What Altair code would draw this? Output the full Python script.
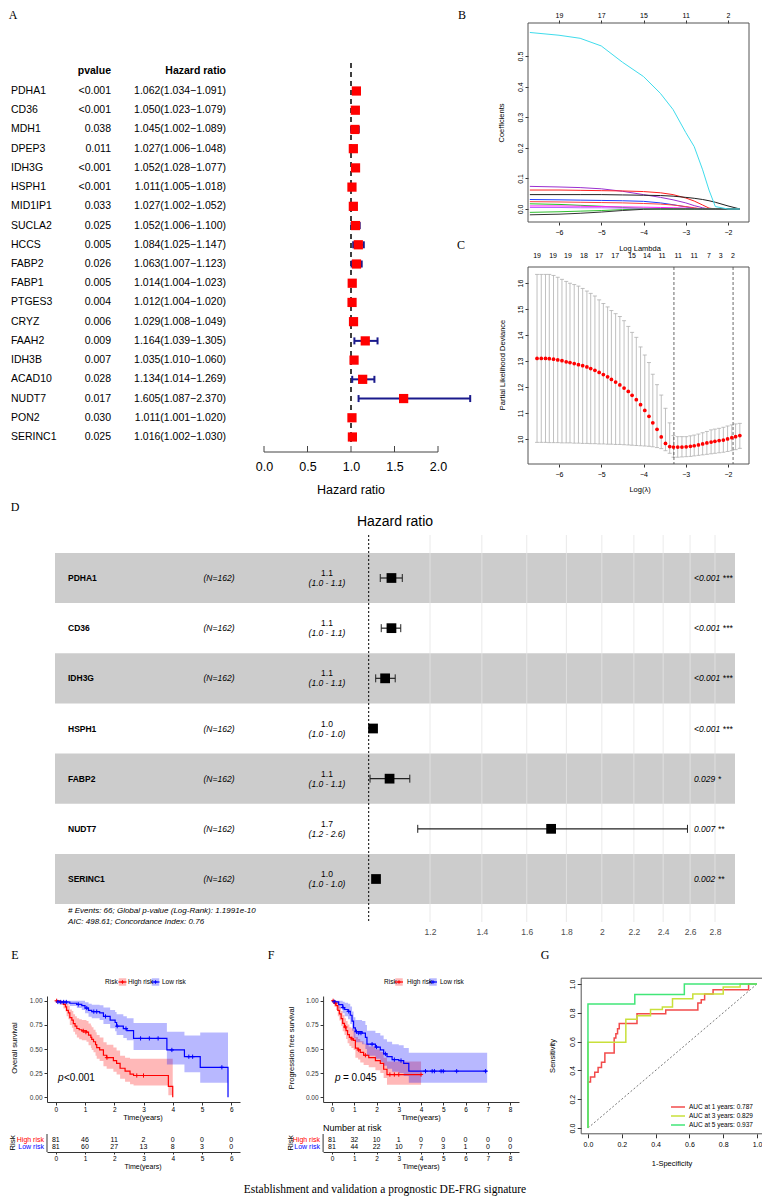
import altair as alt
import pandas as pd

# ---------------- Panel A data (univariate Cox) ----------------
a_genes = ['PDHA1', 'CD36', 'MDH1', 'DPEP3', 'IDH3G', 'HSPH1', 'MID1IP1', 'SUCLA2', 'HCCS', 'FABP2',
           'FABP1', 'PTGES3', 'CRYZ', 'FAAH2', 'IDH3B', 'ACAD10', 'NUDT7', 'PON2', 'SERINC1']
a_pval = ['<0.001', '<0.001', '0.038', '0.011', '<0.001', '<0.001', '0.033', '0.025', '0.005', '0.026',
          '0.005', '0.004', '0.006', '0.009', '0.007', '0.028', '0.017', '0.030', '0.025']
a_hr = [1.062, 1.050, 1.045, 1.027, 1.052, 1.011, 1.027, 1.052, 1.084, 1.063,
        1.014, 1.012, 1.029, 1.164, 1.035, 1.134, 1.605, 1.011, 1.016]
a_lo = [1.034, 1.023, 1.002, 1.006, 1.028, 1.005, 1.002, 1.006, 1.025, 1.007,
        1.004, 1.004, 1.008, 1.039, 1.010, 1.014, 1.087, 1.001, 1.002]
a_hi = [1.091, 1.079, 1.089, 1.048, 1.077, 1.018, 1.052, 1.100, 1.147, 1.123,
        1.023, 1.020, 1.049, 1.305, 1.060, 1.269, 2.370, 1.020, 1.030]
a_ticks = [0, 0.5, 1, 1.5, 2]

# ---------------- Panel B data (LASSO paths) ----------------
b_lam = [-6.69, -6.0, -5.5, -5.0, -4.5, -4.0, -3.6, -3.3, -3.0, -2.8, -2.6, -2.45, -2.3, -2.0, -1.72]
b_purple = [0.074, 0.072, 0.07, 0.066, 0.058, 0.047, 0.038, 0.03, 0.02, 0.011, 0.004, 0.0, 0.0, 0.0, 0.0]
b_red1 = [0.062, 0.062, 0.061, 0.06, 0.059, 0.057, 0.053, 0.047, 0.036, 0.026, 0.013, 0.003, 0.0, 0.0, 0.0]
b_black1 = [0.047, 0.047, 0.047, 0.047, 0.046, 0.045, 0.044, 0.042, 0.038, 0.035, 0.031, 0.027, 0.022, 0.01, 0.0]
b_blue = [0.031, 0.03, 0.029, 0.028, 0.027, 0.025, 0.02, 0.014, 0.007, 0.002, 0.0, 0.0, 0.0, 0.0, 0.0]
b_red2 = [0.024, 0.023, 0.022, 0.021, 0.02, 0.018, 0.016, 0.013, 0.008, 0.004, 0.0, 0.0, 0.0, 0.0, 0.0]
b_green1 = [0.017, 0.015, 0.012, 0.009, 0.005, 0.002, 0.0, 0.0, 0.0, 0.0, 0.0, 0.0, 0.0, 0.0, 0.0]
b_magenta = [0.01, 0.01, 0.009, 0.008, 0.007, 0.006, 0.005, 0.004, 0.003, 0.002, 0.001, 0.0, 0.0, 0.0, 0.0]
b_violet = [0.005, 0.005, 0.004, 0.004, 0.003, 0.002, 0.001, 0.0, 0.0, 0.0, 0.0, 0.0, 0.0, 0.0, 0.0]
b_green2 = [-0.011, -0.009, -0.007, -0.005, -0.002, 0.0, 0.0, 0.0, 0.0, 0.0, 0.0, 0.0, 0.0, 0.0, 0.0]
b_black2 = [-0.019, -0.017, -0.014, -0.01, -0.005, -0.001, 0.0, 0.0, 0.0, 0.0, 0.0, 0.0, 0.0, 0.0, 0.0]
b_cyan = [0.577, 0.568, 0.558, 0.533, 0.48, 0.433, 0.378, 0.325, 0.25, 0.204, 0.128, 0.062, 0.008, 0.0, 0.0]
b_names = ['purple', 'red1', 'black1', 'blue', 'red2', 'green1', 'magenta', 'violet', 'green2', 'black2', 'cyan']
b_colors = ['#9b30d0', '#ff2020', '#202020', '#2040ff', '#ff4040', '#20c020', '#ff20ff', '#c060ff',
            '#30c030', '#333333', '#3fdcec']
b_top_vals = [-6, -5, -4, -3, -2]
b_top_labels = ['19', '17', '15', '11', '2']

# ---------------- Panel C data (cross-validation) ----------------
c_lam = [-6.52, -6.42, -6.32, -6.23, -6.13, -6.03, -5.93, -5.83, -5.74, -5.64,
         -5.54, -5.44, -5.34, -5.25, -5.15, -5.05, -4.95, -4.85, -4.76, -4.66,
         -4.56, -4.46, -4.36, -4.27, -4.17, -4.07, -3.97, -3.87, -3.78, -3.68,
         -3.58, -3.48, -3.38, -3.29, -3.19, -3.09, -2.99, -2.89, -2.80, -2.70,
         -2.60, -2.50, -2.40, -2.31, -2.21, -2.11, -2.01, -1.91, -1.82, -1.72]
c_mean = [13.10, 13.10, 13.10, 13.09, 13.07, 13.04, 13.01, 12.97, 12.94, 12.90,
          12.86, 12.82, 12.77, 12.71, 12.64, 12.56, 12.48, 12.39, 12.29, 12.19,
          12.08, 11.96, 11.83, 11.68, 11.51, 11.32, 11.10, 10.87, 10.62, 10.37,
          10.08, 9.83, 9.71, 9.69, 9.69, 9.69, 9.70, 9.72, 9.74, 9.77,
          9.81, 9.85, 9.88, 9.91, 9.94, 9.96, 10.00, 10.05, 10.09, 10.13]
c_up = [16.33, 16.33, 16.33, 16.33, 16.29, 16.22, 16.14, 16.06, 15.99, 15.94,
        15.88, 15.79, 15.69, 15.60, 15.50, 15.35, 15.21, 15.08, 14.94, 14.82,
        14.71, 14.55, 14.33, 14.10, 13.91, 13.54, 13.23, 12.94, 12.49, 12.09,
        11.69, 11.18, 10.62, 10.13, 10.09, 10.09, 10.09, 10.12, 10.15, 10.19,
        10.24, 10.29, 10.35, 10.38, 10.41, 10.45, 10.50, 10.54, 10.58, 10.60]
c_low = [9.87, 9.87, 9.87, 9.86, 9.86, 9.86, 9.85, 9.85, 9.85, 9.84,
         9.84, 9.83, 9.83, 9.82, 9.82, 9.81, 9.81, 9.80, 9.80, 9.79,
         9.79, 9.78, 9.77, 9.76, 9.75, 9.74, 9.73, 9.72, 9.70, 9.67,
         9.63, 9.55, 9.45, 9.30, 9.30, 9.31, 9.32, 9.33, 9.35, 9.37,
         9.39, 9.41, 9.43, 9.45, 9.47, 9.49, 9.52, 9.55, 9.59, 9.64]
c_vlines = [-3.28, -1.88]
c_top_lam = [-6.52, -6.14, -5.79, -5.41, -5.05, -4.67, -4.27, -3.92, -3.56, -3.18, -2.80, -2.45, -2.17, -1.88]
c_top_nz = ['19', '19', '19', '18', '17', '17', '15', '14', '11', '11', '11', '7', '3', '2']

# ---------------- Panel D data (multivariate Cox) ----------------
d_genes = ['PDHA1', 'CD36', 'IDH3G', 'HSPH1', 'FABP2', 'NUDT7', 'SERINC1']
d_n = ['(N=162)'] * 7
d_hr = [1.070, 1.070, 1.050, 1.013, 1.064, 1.720, 1.022]
d_lo = [1.035, 1.038, 1.021, 1.008, 1.004, 1.157, 1.015]
d_hi = [1.105, 1.100, 1.082, 1.019, 1.130, 2.580, 1.030]
d_est = ['1.1', '1.1', '1.1', '1.0', '1.1', '1.7', '1.0']
d_ci = ['(1.0 - 1.1)', '(1.0 - 1.1)', '(1.0 - 1.1)', '(1.0 - 1.0)', '(1.0 - 1.1)', '(1.2 - 2.6)', '(1.0 - 1.0)']
d_p = ['<0.001 ***', '<0.001 ***', '<0.001 ***', '<0.001 ***', '0.029 *', '0.007 **', '0.002 **']
d_ticks = [1.2, 1.4, 1.6, 1.8, 2, 2.2, 2.4, 2.6, 2.8]

# ---------------- Panel E data (OS Kaplan-Meier) ----------------
e_hi_t = [0, 0.15, 0.26, 0.33, 0.37, 0.43, 0.48, 0.55, 0.6, 0.66, 0.72, 0.8, 0.89, 1.05, 1.12, 1.2,
          1.23, 1.29, 1.36, 1.4, 1.5, 1.63, 1.74, 1.97, 2.08, 2.2, 2.37, 2.54, 2.66, 3.85, 4.0]
e_hi_s = [1.0, 0.988, 0.963, 0.938, 0.9, 0.875, 0.825, 0.8, 0.763, 0.738, 0.713, 0.7, 0.688, 0.675, 0.645, 0.62,
          0.6, 0.575, 0.545, 0.515, 0.49, 0.435, 0.41, 0.38, 0.35, 0.3, 0.27, 0.24, 0.225, 0.113, 0.0]
e_hi_up = [1.0, 1.0, 1.0, 0.99, 0.97, 0.95, 0.91, 0.895, 0.86, 0.84, 0.82, 0.81, 0.8, 0.79, 0.765, 0.745,
           0.725, 0.7, 0.675, 0.645, 0.62, 0.57, 0.545, 0.515, 0.485, 0.43, 0.41, 0.40, 0.40, 0.40, 0.40]
e_hi_lo = [1.0, 0.96, 0.92, 0.89, 0.84, 0.81, 0.75, 0.72, 0.68, 0.65, 0.62, 0.6, 0.59, 0.575, 0.54, 0.51,
           0.49, 0.465, 0.43, 0.4, 0.375, 0.32, 0.295, 0.265, 0.235, 0.19, 0.16, 0.135, 0.12, 0.02, 0.0]
e_lo_t = [0, 0.1, 0.48, 0.72, 0.89, 1.0, 1.12, 1.23, 1.5, 1.63, 1.86, 2.03, 2.08, 2.31, 2.43, 2.66, 3.8, 4.4, 4.94, 5.89]
e_lo_s = [1.0, 0.988, 0.975, 0.963, 0.95, 0.925, 0.9, 0.888, 0.875, 0.838, 0.8, 0.775, 0.737, 0.712, 0.69, 0.61,
          0.49, 0.42, 0.31, 0.0]
e_lo_up = [1.0, 1.0, 1.0, 1.0, 1.0, 0.985, 0.97, 0.96, 0.955, 0.93, 0.905, 0.885, 0.86, 0.84, 0.82, 0.77,
           0.68, 0.64, 0.67, 0.67]
e_lo_lo = [1.0, 0.965, 0.945, 0.925, 0.905, 0.87, 0.835, 0.82, 0.8, 0.76, 0.715, 0.685, 0.645, 0.615, 0.59, 0.49,
           0.34, 0.26, 0.15, 0.15]
e_hi_ct = [0.03, 0.94, 1.03, 1.75, 2.77, 3.0]
e_hi_cs = [1.0, 0.688, 0.675, 0.41, 0.225, 0.225]
e_lo_ct = [0.07, 0.17, 0.27, 0.36, 0.77, 1.06, 1.3, 1.4, 1.7, 2.1, 2.4, 2.9, 3.2, 3.5, 3.97, 4.55, 4.68, 5.68]
e_lo_cs = [0.988, 0.988, 0.988, 0.988, 0.963, 0.925, 0.888, 0.888, 0.838, 0.737, 0.712, 0.61, 0.61, 0.61,
           0.49, 0.42, 0.42, 0.31]
e_years = [0, 1, 2, 3, 4, 5, 6]
e_risk_hi = [81, 46, 11, 2, 0, 0, 0]
e_risk_lo = [81, 60, 27, 13, 8, 3, 0]

# ---------------- Panel F data (PFS Kaplan-Meier) ----------------
f_hi_t = [0, 0.1, 0.18, 0.26, 0.33, 0.41, 0.48, 0.56, 0.63, 0.7, 0.78, 0.87, 0.97, 1.05, 1.17, 1.27,
          1.42, 1.65, 1.95, 2.17, 2.32, 2.47, 4.0]
f_hi_s = [1.0, 0.975, 0.95, 0.9, 0.865, 0.815, 0.765, 0.728, 0.69, 0.65, 0.62, 0.605, 0.59, 0.51, 0.49, 0.465,
          0.435, 0.41, 0.38, 0.35, 0.29, 0.235, 0.235]
f_hi_up = [1.0, 1.0, 0.99, 0.96, 0.935, 0.895, 0.855, 0.82, 0.79, 0.755, 0.725, 0.715, 0.7, 0.625, 0.605, 0.58,
           0.555, 0.525, 0.495, 0.47, 0.41, 0.37, 0.37]
f_hi_lo = [1.0, 0.94, 0.905, 0.84, 0.795, 0.74, 0.685, 0.645, 0.605, 0.56, 0.53, 0.51, 0.49, 0.41, 0.39, 0.36,
           0.335, 0.31, 0.28, 0.25, 0.2, 0.13, 0.13]
f_lo_t = [0, 0.14, 0.3, 0.48, 0.57, 0.72, 0.82, 0.9, 0.97, 1.05, 1.35, 1.5, 1.57, 1.95, 2.17, 2.32, 2.47, 2.7,
          3.0, 3.22, 3.45, 6.97]
f_lo_s = [1.0, 0.99, 0.96, 0.93, 0.91, 0.89, 0.85, 0.79, 0.72, 0.68, 0.665, 0.62, 0.55, 0.52, 0.49, 0.45, 0.42,
          0.39, 0.38, 0.35, 0.27, 0.27]
f_lo_up = [1.0, 1.0, 1.0, 0.99, 0.98, 0.97, 0.94, 0.89, 0.83, 0.8, 0.79, 0.75, 0.69, 0.665, 0.64, 0.6, 0.575,
           0.55, 0.54, 0.51, 0.46, 0.46]
f_lo_lo = [1.0, 0.97, 0.92, 0.87, 0.84, 0.81, 0.76, 0.69, 0.615, 0.57, 0.55, 0.5, 0.43, 0.4, 0.365, 0.325, 0.295,
           0.265, 0.25, 0.22, 0.15, 0.15]
f_hi_ct = [0.05, 0.15, 0.6, 0.9, 1.2, 1.5, 2.6, 2.8, 3.0, 4.0]
f_hi_cs = [1.0, 0.975, 0.728, 0.605, 0.49, 0.435, 0.235, 0.235, 0.235, 0.235]
f_lo_ct = [0.1, 0.5, 0.75, 1.1, 1.2, 1.3, 1.8, 2.0, 2.4, 2.8, 3.1, 4.2, 4.5, 4.6, 4.9, 5.0, 5.6, 6.9]
f_lo_cs = [0.99, 0.93, 0.89, 0.68, 0.665, 0.665, 0.55, 0.52, 0.45, 0.39, 0.38, 0.27, 0.27, 0.27, 0.27, 0.27,
           0.27, 0.27]
f_years = [0, 1, 2, 3, 4, 5, 6, 7, 8]
f_risk_hi = [81, 32, 10, 1, 0, 0, 0, 0, 0]
f_risk_lo = [81, 44, 22, 10, 7, 3, 1, 0, 0]

# ---------------- Panel G data (time-dependent ROC) ----------------
g_names = ['AUC at 1 years: 0.787', 'AUC at 3 years: 0.829', 'AUC at 5 years: 0.937']
g_colors = ['#f24b4b', '#c9e03a', '#42e678']
g1_fpr = [0, 0, 0.015, 0.015, 0.04, 0.04, 0.06, 0.06, 0.08, 0.08, 0.1, 0.1, 0.155, 0.155, 0.165, 0.165,
          0.175, 0.175, 0.185, 0.185, 0.29, 0.29, 0.46, 0.46, 0.65, 0.65, 0.67, 0.67, 0.69, 0.69, 0.74, 0.74,
          0.95, 0.95, 1.0]
g1_tpr = [0, 0.32, 0.32, 0.355, 0.355, 0.387, 0.387, 0.42, 0.42, 0.456, 0.456, 0.521, 0.521, 0.625, 0.625, 0.655,
          0.655, 0.69, 0.69, 0.725, 0.725, 0.794, 0.794, 0.82, 0.82, 0.868, 0.868, 0.89, 0.89, 0.93, 0.93, 0.96,
          0.96, 1.0, 1.0]
g3_fpr = [0, 0, 0.224, 0.224, 0.29, 0.29, 0.37, 0.37, 0.44, 0.44, 0.5, 0.5, 0.62, 0.62, 0.8, 0.8, 0.9, 0.9, 1.0]
g3_tpr = [0, 0.595, 0.595, 0.755, 0.755, 0.78, 0.78, 0.822, 0.822, 0.84, 0.84, 0.898, 0.898, 0.93, 0.93, 0.979,
          0.979, 1.0, 1.0]
g5_fpr = [0, 0, 0.277, 0.277, 0.57, 0.57, 1.0]
g5_tpr = [0, 0.861, 0.861, 0.926, 0.926, 1.0, 1.0]

caption = 'Establishment and validation a prognostic DE-FRG signature'

# ====================================================================
W, H = 754, 1188
SANS = 'Liberation Sans'
SERIF = 'Liberation Serif'
PLUS = 'M-1,0L1,0M0,-1L0,1'
VBAR = 'M0,-1L0,1'
HBAR = 'M-1,0L1,0'


def px(v):
    return v - 8


def py(v):
    return v - 8


def lin(domain, rng):
    return alt.Scale(domain=domain, range=rng, nice=False, zero=False)


def axis(orient, pos, values, fmt=None, size=7, tick=4, ticks=True, domain=False, pad=2,
         color='black', expr=None, angle=None):
    kw = dict(orient=orient, values=values, labelFontSize=size, labelFont=SANS, labelColor=color,
              ticks=ticks, tickSize=tick, tickColor='#333333', domain=domain, domainColor='#333333',
              grid=False, title=None, labelPadding=pad, labelFlush=False, labelOverlap=False)
    if orient == 'bottom':
        kw['offset'] = py(pos) - H
    elif orient == 'top':
        kw['offset'] = -py(pos)
    else:
        kw['offset'] = -px(pos)
    if fmt:
        kw['format'] = fmt
    if expr:
        kw['labelExpr'] = expr
    if angle is not None:
        kw['labelAngle'] = angle
        kw['labelAlign'] = 'center'
        kw['labelBaseline'] = 'bottom'
    return alt.Axis(**kw)


def ptext(s, x, y, size=8, align='center', angle=0, weight='normal', style='normal',
          color='black', font=SANS):
    return alt.Chart(pd.DataFrame({'t': [s]})).mark_text(
        align=align, baseline='middle', fontSize=size, font=font, angle=angle,
        fontWeight=weight, fontStyle=style, color=color).encode(
        x=alt.value(px(x)), y=alt.value(py(y)), text='t:N')


L = []

# ---------------- Panel A ----------------
df_a = pd.DataFrame({'gene': a_genes, 'pval': a_pval, 'hr': a_hr, 'lo': a_lo, 'hi': a_hi})
df_a['row'] = list(range(len(a_genes)))
df_a['hrtext'] = ['%.3f(%.3f\u2212%.3f)' % (h, l, u) for h, l, u in zip(a_hr, a_lo, a_hi)]
ax_s = lin([0, 2.4], [px(264), px(264 + 2.4 * 87)])
ay_s = lin([0, 18], [py(91), py(437)])
A = alt.Chart(df_a)
yA = alt.Y('row:Q', scale=ay_s, axis=None)
L += [
    A.mark_text(align='left', baseline='middle', font=SANS, fontSize=10.5).encode(
        x=alt.value(px(11)), y=yA, text='gene:N'),
    A.mark_text(align='right', baseline='middle', font=SANS, fontSize=10.5).encode(
        x=alt.value(px(111)), y=yA, text='pval:N'),
    A.mark_text(align='right', baseline='middle', font=SANS, fontSize=10.5).encode(
        x=alt.value(px(226)), y=yA, text='hrtext:N'),
    ptext('pvalue', 111, 71, size=10.5, align='right', weight='bold'),
    ptext('Hazard ratio', 226, 71, size=10.5, align='right', weight='bold'),
]
L.append(alt.Chart(pd.DataFrame({'v': [1.0], 'r1': [-1.46], 'r2': [18.26]})).mark_rule(
    color='black', strokeWidth=1.5, strokeDash=[5, 4]).encode(
    x=alt.X('v:Q', scale=ax_s, axis=None), y=alt.Y('r1:Q', scale=ay_s, axis=None), y2='r2:Q'))
L.append(A.mark_rule(color='#1a1a8c', strokeWidth=2).encode(
    x=alt.X('lo:Q', scale=ax_s, axis=None), x2='hi:Q', y=yA))
for f in ['lo', 'hi']:
    L.append(A.mark_point(shape=VBAR, size=49, filled=False, strokeWidth=2, color='#1a1a8c', opacity=1).encode(
        x=alt.X(f + ':Q', scale=ax_s, axis=None), y=yA))
L.append(A.mark_square(size=85, color='#ff0000', opacity=1).encode(
    x=alt.X('hr:Q', scale=ax_s, axis=axis('bottom', 452, a_ticks, fmt='.1f', size=12.5, ticks=False, pad=8)),
    y=yA))
L.append(alt.Chart(pd.DataFrame({'v': a_ticks})).mark_rule(color='#444444').encode(
    x=alt.X('v:Q', scale=ax_s, axis=None), y=alt.value(py(446)), y2=alt.value(py(452))))
L.append(alt.Chart(pd.DataFrame({'a': [a_ticks[0]], 'b': [a_ticks[-1]]})).mark_rule(color='#444444').encode(
    x=alt.X('a:Q', scale=ax_s, axis=None), x2='b:Q', y=alt.value(py(452))))
L.append(ptext('Hazard ratio', 351, 490, size=12.5))

# ---------------- Panel B ----------------
bx_dom = [-6.734, -1.503]
by_dom = [-0.0425, 0.608]
bx_s = lin(bx_dom, [px(528), px(749)])
by_s = lin(by_dom, [py(222), py(23)])
b_paths = [b_purple, b_red1, b_black1, b_blue, b_red2, b_green1, b_magenta, b_violet, b_green2, b_black2, b_cyan]
rows = []
for name, vals in zip(b_names, b_paths):
    for lam, c in zip(b_lam, vals):
        rows.append({'var': name, 'lam': lam, 'coef': c})
df_b = pd.DataFrame(rows)
top_expr = ' : '.join("datum.value == %d ? '%s'" % (v, l) for v, l in zip(b_top_vals, b_top_labels)) + " : ''"
L.append(alt.Chart(pd.DataFrame({'x1': [bx_dom[0]], 'x2': [bx_dom[1]], 'y1': [by_dom[0]], 'y2': [by_dom[1]]}))
         .mark_rect(fillOpacity=0, stroke='#555555', strokeWidth=1).encode(
    x=alt.X('x1:Q', scale=bx_s, axis=axis('top', 23, b_top_vals, size=7, tick=3, expr=top_expr)),
    x2='x2:Q', y=alt.Y('y1:Q', scale=by_s, axis=None), y2='y2:Q'))
L.append(alt.Chart(df_b).mark_line(strokeWidth=1).encode(
    x=alt.X('lam:Q', scale=bx_s, axis=axis('bottom', 222, b_top_vals, fmt='d', size=7, tick=3, pad=3)),
    y=alt.Y('coef:Q', scale=by_s, axis=axis('left', 528, [0, 0.1, 0.2, 0.3, 0.4, 0.5], fmt='.1f', size=7,
                                            tick=3, angle=270)),
    color=alt.Color('var:N', scale=alt.Scale(domain=b_names, range=b_colors), legend=None),
    order='lam:Q'))
L.append(ptext('Coefficients', 502, 123, size=7.5, angle=270))
L.append(ptext('Log Lambda', 640, 249, size=7.5))

# ---------------- Panel C ----------------
cy_dom = [9.038, 16.615]
cy_s = lin(cy_dom, [py(464), py(267)])
df_c = pd.DataFrame({'lam': c_lam, 'm': c_mean, 'up': c_up, 'lo': c_low})
C = alt.Chart(df_c)
L.append(alt.Chart(pd.DataFrame({'x1': [bx_dom[0]], 'x2': [bx_dom[1]], 'y1': [cy_dom[0]], 'y2': [cy_dom[1]]}))
         .mark_rect(fillOpacity=0, stroke='#555555', strokeWidth=1).encode(
    x=alt.X('x1:Q', scale=bx_s, axis=axis('bottom', 464, b_top_vals, fmt='d', size=7, tick=3, pad=3)),
    x2='x2:Q', y=alt.Y('y1:Q', scale=cy_s, axis=None), y2='y2:Q'))
L.append(C.mark_rule(color='#b0b0b0', strokeWidth=0.8).encode(
    x=alt.X('lam:Q', scale=bx_s, axis=None), y=alt.Y('lo:Q', scale=cy_s, axis=None), y2='up:Q'))
for f in ['lo', 'up']:
    L.append(C.mark_point(shape=HBAR, size=16, filled=False, strokeWidth=0.8, color='#b0b0b0', opacity=1).encode(
        x=alt.X('lam:Q', scale=bx_s, axis=None), y=alt.Y(f + ':Q', scale=cy_s, axis=None)))
L.append(alt.Chart(pd.DataFrame({'v': c_vlines})).mark_rule(color='#444444', strokeWidth=0.8,
                                                             strokeDash=[3, 2]).encode(
    x=alt.X('v:Q', scale=bx_s, axis=None), y=alt.value(py(267)), y2=alt.value(py(464))))
L.append(C.mark_circle(size=14, color='#ff0000', opacity=1).encode(
    x=alt.X('lam:Q', scale=bx_s, axis=None),
    y=alt.Y('m:Q', scale=cy_s, axis=axis('left', 528, [10, 11, 12, 13, 14, 15, 16], fmt='d', size=7, tick=3,
                                         angle=270))))
L.append(alt.Chart(pd.DataFrame({'lam': c_top_lam, 'nz': c_top_nz})).mark_text(
    fontSize=7, font=SANS, baseline='middle').encode(
    x=alt.X('lam:Q', scale=bx_s, axis=None), y=alt.value(py(256)), text='nz:N'))
L.append(ptext('Partial Likelihood Deviance', 503, 365, size=7.5, angle=270))
L.append(ptext('Log(\u03bb)', 640, 490, size=7.5))

# ---------------- Panel D ----------------
dx_s = alt.Scale(type='log', domain=[1, 2.8], range=[px(368.7), px(715)], nice=False)
dy_s = lin([0, 6], [py(578), py(879)])
df_d = pd.DataFrame({'gene': d_genes, 'n': d_n, 'hr': d_hr, 'lo': d_lo, 'hi': d_hi,
                     'est': d_est, 'ci': d_ci, 'p': d_p})
df_d['row'] = list(range(len(d_genes)))
df_d['y0'] = df_d['row'] - 0.5
df_d['y1'] = df_d['row'] + 0.5
D = alt.Chart(df_d)
yD = alt.Y('row:Q', scale=dy_s, axis=None)
L.append(D.transform_filter('datum.row % 2 == 0').mark_rect(color='#cccccc').encode(
    x=alt.value(px(55)), x2=alt.value(px(735)), y=alt.Y('y0:Q', scale=dy_s, axis=None), y2='y1:Q'))
L.append(alt.Chart(pd.DataFrame({'g': d_ticks})).mark_rule(color='#e4e4e4', strokeWidth=0.8).encode(
    x=alt.X('g:Q', scale=dx_s, axis=axis('bottom', 926, d_ticks, fmt='~g', size=8.5, ticks=False, pad=1,
                                         color='#4d4d4d')),
    y=alt.value(py(535)), y2=alt.value(py(922))))
L.append(alt.Chart(pd.DataFrame({'v': [1.0]})).mark_rule(color='black', strokeWidth=1, strokeDash=[2, 2]).encode(
    x=alt.X('v:Q', scale=dx_s, axis=None), y=alt.value(py(535)), y2=alt.value(py(922))))
L.append(D.mark_rule(color='#222222', strokeWidth=1.2).encode(
    x=alt.X('lo:Q', scale=dx_s, axis=None), x2='hi:Q', y=yD))
for f in ['lo', 'hi']:
    L.append(D.mark_point(shape=VBAR, size=64, filled=False, strokeWidth=1, color='#222222', opacity=1).encode(
        x=alt.X(f + ':Q', scale=dx_s, axis=None), y=yD))
L.append(D.mark_square(size=95, color='black', opacity=1).encode(x=alt.X('hr:Q', scale=dx_s, axis=None), y=yD))
L += [
    D.mark_text(align='left', baseline='middle', font=SANS, fontSize=8.5, fontWeight='bold').encode(
        x=alt.value(px(68)), y=yD, text='gene:N'),
    D.mark_text(align='center', baseline='middle', font=SANS, fontSize=8.5, fontStyle='italic').encode(
        x=alt.value(px(219)), y=yD, text='n:N'),
    D.mark_text(align='center', baseline='middle', font=SANS, fontSize=8.5, dy=-5).encode(
        x=alt.value(px(327)), y=yD, text='est:N'),
    D.mark_text(align='center', baseline='middle', font=SANS, fontSize=8.5, fontStyle='italic', dy=5).encode(
        x=alt.value(px(327)), y=yD, text='ci:N'),
    D.mark_text(align='left', baseline='middle', font=SANS, fontSize=8.5, fontStyle='italic').encode(
        x=alt.value(px(694)), y=yD, text='p:N'),
]
L.append(ptext('Hazard ratio', 395, 522, size=14))
L.append(ptext('# Events: 66; Global p-value (Log-Rank): 1.1991e-10', 68, 911, size=8, align='left', style='italic'))
L.append(ptext('AIC: 498.61; Concordance Index: 0.76', 68, 922, size=8, align='left', style='italic'))

# ---------------- Panels E & F (Kaplan-Meier) ----------------
KM_COL = alt.Scale(domain=['High risk', 'Low risk'], range=['#ff0000', '#0000ff'])
km_y = lin([-0.05, 1.05], [py(1102), py(996)])


def km_layers(hi, lo, chi, clo, years, r_hi, r_lo, xdom, xpix):
    xs = lin(xdom, [px(xpix[0]), px(xpix[1])])
    df = pd.concat([
        pd.DataFrame({'grp': 'High risk', 't': hi[0], 's': hi[1], 'up': hi[2], 'lo': hi[3]}),
        pd.DataFrame({'grp': 'Low risk', 't': lo[0], 's': lo[1], 'up': lo[2], 'lo': lo[3]})])
    dfc = pd.concat([pd.DataFrame({'grp': 'High risk', 't': chi[0], 's': chi[1]}),
                     pd.DataFrame({'grp': 'Low risk', 't': clo[0], 's': clo[1]})])
    dft = pd.DataFrame({'grp': ['High risk'] * len(years) + ['Low risk'] * len(years),
                        't': years + years, 'n': r_hi + r_lo,
                        'r': [0] * len(years) + [1] * len(years)})
    col = alt.Color('grp:N', scale=KM_COL, legend=None)
    return [
        alt.Chart(df).mark_area(interpolate='step-after', opacity=0.28).encode(
            x=alt.X('t:Q', scale=xs, axis=None), y=alt.Y('lo:Q', scale=km_y, axis=None, stack=None),
            y2='up:Q', color=col),
        alt.Chart(df).mark_line(interpolate='step-after', strokeWidth=1.2).encode(
            x=alt.X('t:Q', scale=xs, axis=axis('bottom', 1102, years, fmt='d', size=6.5, tick=3, domain=True,
                                               pad=1)),
            y=alt.Y('s:Q', scale=km_y, axis=axis('left', xpix[0], [0, 0.25, 0.5, 0.75, 1], fmt='.2f', size=6.5,
                                                 tick=3, domain=True, color='#333333')),
            color=col),
        alt.Chart(dfc).mark_point(shape=PLUS, size=18, strokeWidth=1, filled=False, opacity=1).encode(
            x=alt.X('t:Q', scale=xs, axis=None), y=alt.Y('s:Q', scale=km_y, axis=None), color=col),
        alt.Chart(dft).mark_text(fontSize=7, font=SANS, baseline='middle').encode(
            x=alt.X('t:Q', scale=xs, axis=axis('bottom', 1152, years, fmt='d', size=6.5, tick=2, domain=True,
                                               pad=1)),
            y=alt.Y('r:Q', scale=lin([0, 1], [py(1140), py(1147)]), axis=None), text='n:Q'),
        alt.Chart(pd.DataFrame({'a': [0]})).mark_rule(color='#333333').encode(
            x=alt.value(px(xpix[0])), y=alt.value(py(1134)), y2=alt.value(py(1152))),
    ]


def km_legend(risk_x, key_x, label_x):
    dfl = pd.DataFrame({'grp': ['High risk', 'Low risk'], 'k': [0, 1]})
    kx = lin([0, 1], [px(key_x[0]), px(key_x[1])])
    lx = lin([0, 1], [px(label_x[0]), px(label_x[1])])
    col = alt.Color('grp:N', scale=KM_COL, legend=None)
    base = alt.Chart(dfl)
    return [
        ptext('Risk', risk_x, 982, size=6.5, align='left'),
        base.mark_square(size=56, opacity=0.28).encode(x=alt.X('k:Q', scale=kx, axis=None),
                                                         y=alt.value(py(982)), color=col),
        base.mark_point(shape=HBAR, size=64, strokeWidth=1.2, filled=False, opacity=1).encode(
            x=alt.X('k:Q', scale=kx, axis=None), y=alt.value(py(982)), color=col),
        base.mark_point(shape=PLUS, size=12, strokeWidth=1, filled=False, opacity=1).encode(
            x=alt.X('k:Q', scale=kx, axis=None), y=alt.value(py(982)), color=col),
        base.mark_text(align='left', baseline='middle', fontSize=6.5, font=SANS).encode(
            x=alt.X('k:Q', scale=lx, axis=None), y=alt.value(py(982)), text='grp:N'),
    ]


L += km_layers((e_hi_t, e_hi_s, e_hi_up, e_hi_lo), (e_lo_t, e_lo_s, e_lo_up, e_lo_lo),
               (e_hi_ct, e_hi_cs), (e_lo_ct, e_lo_cs), e_years, e_risk_hi, e_risk_lo,
               [-0.3, 6.3], [47, 240])
L += km_legend(105, [122.5, 155.5], [128, 162])
L += [
    ptext('p', 58, 1078, size=10, align='left', style='italic'),
    ptext('<0.001', 64, 1078, size=10, align='left'),
    ptext('Overall survival', 15, 1048, size=7.5, angle=270),
    ptext('Time(years)', 143, 1118, size=7.5),
    ptext('Time(years)', 143, 1167, size=7),
    ptext('High risk', 44, 1140, size=7, align='right', color='#ff0000'),
    ptext('Low risk', 44, 1147, size=7, align='right', color='#0000ff'),
    ptext('Risk', 13, 1143, size=8, angle=270),
]

L += km_layers((f_hi_t, f_hi_s, f_hi_up, f_hi_lo), (f_lo_t, f_lo_s, f_lo_up, f_lo_lo),
               (f_hi_ct, f_hi_cs), (f_lo_ct, f_lo_cs), f_years, f_risk_hi, f_risk_lo,
               [-0.4, 8.4], [323.1, 519])
L += km_legend(384, [399, 433], [407, 440])
L += [
    ptext('p', 335, 1078, size=10, align='left', style='italic'),
    ptext('= 0.045', 343, 1078, size=10, align='left'),
    ptext('Progression free survival', 292, 1048, size=7.5, angle=270),
    ptext('Time(years)', 421, 1118, size=7.5),
    ptext('Time(years)', 421, 1167, size=7),
    ptext('Number at risk', 323, 1128, size=9, align='left'),
    ptext('High risk', 320, 1140, size=7, align='right', color='#ff0000'),
    ptext('Low risk', 320, 1147, size=7, align='right', color='#0000ff'),
    ptext('Risk', 291, 1143, size=8, angle=270),
]

# ---------------- Panel G ----------------
g_dom = [-0.04, 1.04]
gx_s = lin(g_dom, [px(581.2), px(763.8)])
gy_s = lin(g_dom, [py(1133.8), py(978.2)])
g_ticks = [0, 0.2, 0.4, 0.6, 0.8, 1.0]
rows = []
for name, fpr, tpr in zip(g_names, [g1_fpr, g3_fpr, g5_fpr], [g1_tpr, g3_tpr, g5_tpr]):
    for i, (a, b) in enumerate(zip(fpr, tpr)):
        rows.append({'curve': name, 'fpr': a, 'tpr': b, 'ord': i})
df_g = pd.DataFrame(rows)
g_col = alt.Color('curve:N', scale=alt.Scale(domain=g_names, range=g_colors), legend=None)
L.append(alt.Chart(pd.DataFrame({'x1': [g_dom[0]], 'x2': [g_dom[1]], 'y1': [g_dom[0]], 'y2': [g_dom[1]]}))
         .mark_rect(fillOpacity=0, stroke='#555555', strokeWidth=1).encode(
    x=alt.X('x1:Q', scale=gx_s, axis=axis('bottom', 1133.8, g_ticks, fmt='.1f', size=7, tick=4, pad=3)),
    x2='x2:Q',
    y=alt.Y('y1:Q', scale=gy_s, axis=axis('left', 581.2, g_ticks, fmt='.1f', size=7, tick=4, angle=270)),
    y2='y2:Q'))
L.append(alt.Chart(pd.DataFrame({'a': [0.0, 1.0]})).mark_line(color='#555555', strokeWidth=0.8,
                                                              strokeDash=[2, 2]).encode(
    x=alt.X('a:Q', scale=gx_s, axis=None), y=alt.Y('a:Q', scale=gy_s, axis=None)))
L.append(alt.Chart(df_g).mark_line(strokeWidth=1.5).encode(
    x=alt.X('fpr:Q', scale=gx_s, axis=None), y=alt.Y('tpr:Q', scale=gy_s, axis=None),
    color=g_col, order='ord:Q'))
df_gl = pd.DataFrame({'curve': g_names, 'i': [0, 1, 2]})
gl_y = lin([0, 2], [py(1107), py(1125)])
L.append(alt.Chart(df_gl).mark_rule(strokeWidth=1.5).encode(
    x=alt.value(px(671)), x2=alt.value(px(685)), y=alt.Y('i:Q', scale=gl_y, axis=None), color=g_col))
L.append(alt.Chart(df_gl).mark_text(align='left', baseline='middle', fontSize=6.5, font=SANS).encode(
    x=alt.value(px(689)), y=alt.Y('i:Q', scale=gl_y, axis=None), text='curve:N'))
L.append(ptext('Sensitivity', 553, 1056, size=7.5, angle=270))
L.append(ptext('1-Specificity', 672, 1164, size=7.5))

# ---------------- panel letters and caption ----------------
for lab, x, y in [('A', 13, 15), ('B', 462, 15), ('C', 461, 245), ('D', 15, 507),
                  ('E', 15, 955), ('F', 271, 955), ('G', 545, 955)]:
    L.append(ptext(lab, x, y, size=12, font=SERIF))
L.append(ptext(caption, 385, 1190, size=11.5, font=SERIF))

chart = alt.layer(*L).properties(
    width=W, height=H, padding=0, autosize=alt.AutoSizeParams(type='none')
).resolve_scale(x='independent', y='independent', color='independent').configure_view(stroke=None)

chart.save('out.html', embed_options={'renderer': 'svg', 'actions': False})
